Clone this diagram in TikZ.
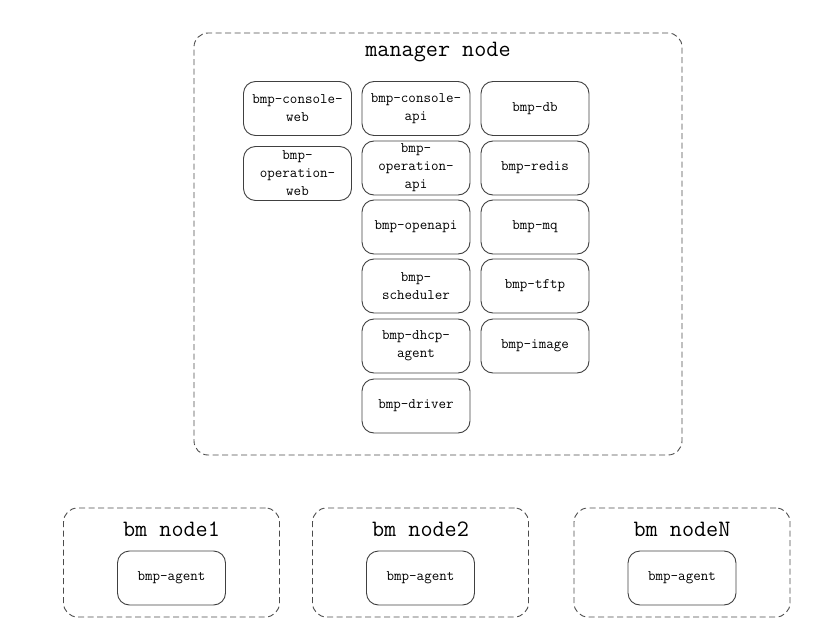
\documentclass[tikz,border=0pt]{standalone}
\usepackage{tikz}

\begin{document}
\begin{tikzpicture}[x=1pt,y=-1pt,
    group/.style={draw=black!70,line width=0.9pt,dash pattern=on 6pt off 3.5pt,
        rounded corners=14pt,minimum width=#1,inner sep=0pt},
    svc/.style={draw=black!75,line width=0.9pt,rounded corners=12pt,
        minimum width=108pt,minimum height=54pt,inner sep=2pt,align=center,
        font=\ttfamily\fontsize{14.6}{18}\selectfont},
    title/.style={font=\ttfamily\fontsize{23.5}{26}\selectfont}]

\useasboundingbox (0,0) rectangle (835,639);

% manager node
\node[group=488pt,minimum height=422pt] (mgr) at (438,244) {};
\node[title] (mgrtitle) at (438,52) {manager node};

% first column: web front ends
\node[svc] (consoleweb) at (297.5,108.5) {bmp-console-\\web};
\node[svc] (operationweb) at (297.5,173.5) {bmp-\\operation-\\web};

% second column: services
\node[svc] (consoleapi) at (416,108.5) {bmp-console-\\api};
\node[svc] (operationapi) at (416,168) {bmp-\\operation-\\api};
\node[svc] (openapi) at (416,227) {bmp-openapi};
\node[svc] (scheduler) at (416,286) {bmp-\\scheduler};
\node[svc] (dhcpagent) at (416,346) {bmp-dhcp-\\agent};
\node[svc] (driver) at (416,406) {bmp-driver};

% third column: infrastructure
\node[svc] (db) at (535,108.5) {bmp-db};
\node[svc] (redis) at (535,168) {bmp-redis};
\node[svc] (mq) at (535,227) {bmp-mq};
\node[svc] (tftp) at (535,286) {bmp-tftp};
\node[svc] (image) at (535,346) {bmp-image};

% bm nodes
\foreach \x/\n in {171.5/1,420.5/2,682/N}{
    \node[group=216pt,minimum height=109pt] (bm\n) at (\x,562.5) {};
    \node[title] (bmtitle\n) at (\x,529) {bm node\n};
    \node[svc] (agent\n) at (\x,578) {bmp-agent};
}

\end{tikzpicture}
\end{document}
